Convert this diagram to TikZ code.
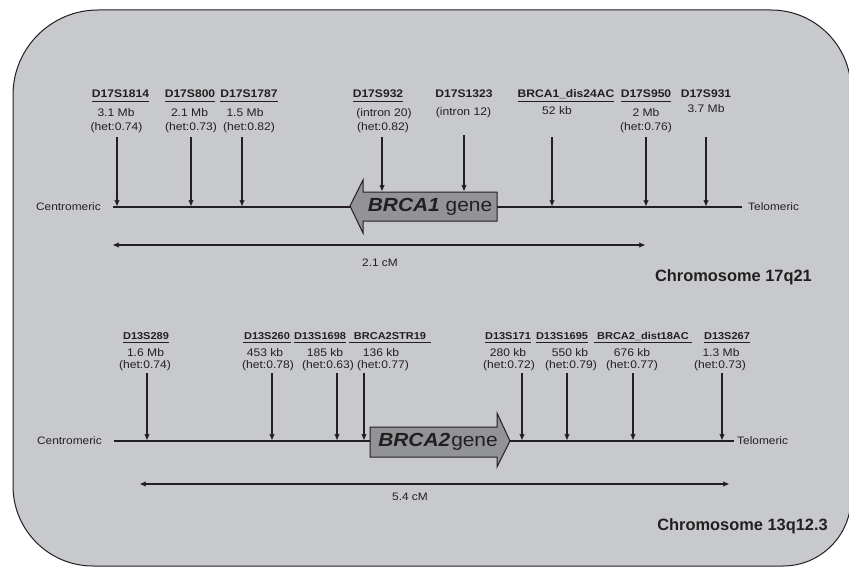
\documentclass[tikz,border=0pt]{standalone}
\usepackage{fontspec}
\setmainfont{Liberation Sans}[FakeStretch=1.1]
\newfontfamily\plainsans{Liberation Sans}
\usetikzlibrary{arrows.meta}
\definecolor{bgc}{RGB}{200,201,204}
\definecolor{genec}{RGB}{146,147,150}
\definecolor{ink}{RGB}{35,31,32}
\newcommand{\ulx}[1]{\leavevmode\vtop{\hbox{#1}\kern2.6pt\hrule height 1.5pt}}
\begin{document}
\begin{tikzpicture}[x=1pt,y=-1pt,
  every node/.style={text=ink,inner sep=0pt},
  nm/.style={font=\bfseries\fontsize{11}{13}\selectfont,anchor=base},
  nmb/.style={font=\bfseries\fontsize{10}{12}\selectfont,anchor=base},
  inf/.style={font=\fontsize{11}{13}\selectfont,anchor=base},
  sidetxt/.style={font=\fontsize{10.8}{12}\selectfont},
  cmtxt/.style={font=\fontsize{10.8}{12}\selectfont},
  chrom/.style={font=\plainsans\bfseries\fontsize{16.4}{18}\selectfont,anchor=east},
  genetxt/.style={font=\fontsize{19}{21}\selectfont},
  mkarrow/.style={draw=ink,line width=1.3pt,-{Stealth[length=6pt,width=5pt,inset=1pt]}},
  dblarrow/.style={draw=ink,line width=1.3pt,{Stealth[length=6pt,width=5pt,inset=1pt]}-{Stealth[length=6pt,width=5pt,inset=1pt]}},
  chromline/.style={draw=ink,line width=2pt},
  genebox/.style={draw=ink,line width=1pt,fill=genec,line join=miter}]
\useasboundingbox (0,0) rectangle (849,567);
\draw[fill=bgc,draw=ink,line width=1pt]
  (13,95) arc[start angle=180,end angle=270,radius=85] -- (771,10)
  arc[start angle=270,end angle=360,radius=80] -- (851,498)
  arc[start angle=0,end angle=90,radius=68] -- (93,566)
  arc[start angle=90,end angle=180,radius=80] -- cycle;

% ---------------- Chromosome 17q21 ----------------
\node[sidetxt,anchor=east] (cen1) at (101,207) {Centromeric};
\node[sidetxt,anchor=west] (tel1) at (748,207) {Telomeric};
\coordinate (l1a) at (113,207);
\coordinate (l1b) at (742,207);
\draw[chromline] (l1a) -- (l1b);

\draw[genebox] (350,206) -- (363,180) -- (363,192) -- (497,192) -- (497,221) -- (363,221) -- (363,233) -- cycle;
\node[genetxt] (g1) at (430,207) {\textbf{\textit{BRCA1}} gene};

% markers
\node[nm] (a1n) at (120.5,98) {\ulx{D17S1814}};
\node[inf] (a1i) at (116,117) {3.1 Mb};
\node[inf] (a1j) at (116.5,131) {(het:0.74)};
\coordinate (a1s) at (117,137); \coordinate (a1e) at (117,206);
\draw[mkarrow] (a1s) -- (a1e);

\node[nm] (a2n) at (190,98) {\ulx{D17S800}};
\node[inf] (a2i) at (189.5,117) {2.1 Mb};
\node[inf] (a2j) at (191,131) {(het:0.73)};
\coordinate (a2s) at (191,137); \coordinate (a2e) at (191,206);
\draw[mkarrow] (a2s) -- (a2e);

\node[nm] (a3n) at (249,98) {\ulx{D17S1787}};
\node[inf] (a3i) at (245,117) {1.5 Mb};
\node[inf] (a3j) at (249,131) {(het:0.82)};
\coordinate (a3s) at (242,137); \coordinate (a3e) at (242,206);
\draw[mkarrow] (a3s) -- (a3e);

\node[nm] (a4n) at (378,98) {\ulx{D17S932}};
\node[inf] (a4i) at (384,117) {(intron 20)};
\node[inf] (a4j) at (383,131) {(het:0.82)};
\coordinate (a4s) at (382,137); \coordinate (a4e) at (382,191);
\draw[mkarrow] (a4s) -- (a4e);

\node[nm] (a5n) at (464,98) {D17S1323};
\node[inf] (a5i) at (463.5,116) {(intron 12)};
\coordinate (a5s) at (464,135); \coordinate (a5e) at (464,191);
\draw[mkarrow] (a5s) -- (a5e);

\node[nm] (a6n) at (566,98) {\ulx{BRCA1\smash{\_}dis24AC}};
\node[inf] (a6i) at (557,115) {52 kb};
\coordinate (a6s) at (552,137); \coordinate (a6e) at (552,206);
\draw[mkarrow] (a6s) -- (a6e);

\node[nm] (a7n) at (646,98) {\ulx{D17S950}};
\node[inf] (a7i) at (646,117) {2 Mb};
\node[inf] (a7j) at (646,131) {(het:0.76)};
\coordinate (a7s) at (646,137); \coordinate (a7e) at (646,206);
\draw[mkarrow] (a7s) -- (a7e);

\node[nm] (a8n) at (706,98) {D17S931};
\node[inf] (a8i) at (706,113) {3.7 Mb};
\coordinate (a8s) at (706,137); \coordinate (a8e) at (706,206);
\draw[mkarrow] (a8s) -- (a8e);

\coordinate (d1a) at (113,245); \coordinate (d1b) at (645,245);
\draw[dblarrow] (d1a) -- (d1b);
\node[cmtxt] (d1t) at (380,263) {2.1 cM};
\node[chrom] (c1) at (812,277) {Chromosome 17q21};

% ---------------- Chromosome 13q12.3 ----------------
\node[sidetxt,anchor=east] (cen2) at (102,441) {Centromeric};
\node[sidetxt,anchor=west] (tel2) at (737,441) {Telomeric};
\coordinate (l2a) at (114,441);
\coordinate (l2b) at (734,441);
\draw[chromline] (l2a) -- (l2b);

\draw[genebox] (370,427) -- (497,427) -- (497,413) -- (510,441) -- (497,467) -- (497,457) -- (370,457) -- cycle;
\node[genetxt] (g2) at (438,442) {\textbf{\textit{BRCA2}}\kern1pt gene};

\node[nmb] (b1n) at (146,339) {\ulx{D13S289}};
\node[inf] (b1i) at (145.5,356) {1.6 Mb};
\node[inf] (b1j) at (145,368) {(het:0.74)};
\coordinate (b1s) at (147,373); \coordinate (b1e) at (147,440);
\draw[mkarrow] (b1s) -- (b1e);

\node[nmb] (b2n) at (267,339) {\ulx{\kern1.5pt D13S260\kern1.5pt}};
\node[inf] (b2i) at (265,356) {453 kb};
\node[inf] (b2j) at (268,368) {(het:0.78)};
\coordinate (b2s) at (272,373); \coordinate (b2e) at (272,440);
\draw[mkarrow] (b2s) -- (b2e);

\node[nmb] (b3n) at (320,339) {\ulx{D13S1698}};
\node[inf] (b3i) at (325,356) {185 kb};
\node[inf] (b3j) at (328,368) {(het:0.63)};
\coordinate (b3s) at (337,373); \coordinate (b3e) at (337,440);
\draw[mkarrow] (b3s) -- (b3e);

\node[nmb] (b4n) at (390,339) {\ulx{\kern5pt BRCA2STR19\kern5pt}};
\node[inf] (b4i) at (381,356) {136 kb};
\node[inf] (b4j) at (383,368) {(het:0.77)};
\coordinate (b4s) at (364,373); \coordinate (b4e) at (364,440);
\draw[mkarrow] (b4s) -- (b4e);

\node[nmb] (b5n) at (508,339) {\ulx{D13S171}};
\node[inf] (b5i) at (508,356) {280 kb};
\node[inf] (b5j) at (509,368) {(het:0.72)};
\coordinate (b5s) at (522,373); \coordinate (b5e) at (522,440);
\draw[mkarrow] (b5s) -- (b5e);

\node[nmb] (b6n) at (562,339) {\ulx{D13S1695}};
\node[inf] (b6i) at (570,356) {550 kb};
\node[inf] (b6j) at (571,368) {(het:0.79)};
\coordinate (b6s) at (567,373); \coordinate (b6e) at (567,440);
\draw[mkarrow] (b6s) -- (b6e);

\node[nmb] (b7n) at (643,339) {\ulx{\kern3pt BRCA2\smash{\_}dist18AC\kern3pt}};
\node[inf] (b7i) at (632,356) {676 kb};
\node[inf] (b7j) at (632,368) {(het:0.77)};
\coordinate (b7s) at (633,373); \coordinate (b7e) at (633,440);
\draw[mkarrow] (b7s) -- (b7e);

\node[nmb] (b8n) at (727,339) {\ulx{D13S267}};
\node[inf] (b8i) at (721,356) {1.3 Mb};
\node[inf] (b8j) at (720,368) {(het:0.73)};
\coordinate (b8s) at (722,373); \coordinate (b8e) at (722,440);
\draw[mkarrow] (b8s) -- (b8e);

\coordinate (d2a) at (140,484); \coordinate (d2b) at (729,484);
\draw[dblarrow] (d2a) -- (d2b);
\node[cmtxt] (d2t) at (410,497) {5.4 cM};
\node[chrom] (c2) at (828,526) {Chromosome 13q12.3};
\end{tikzpicture}
\end{document}
